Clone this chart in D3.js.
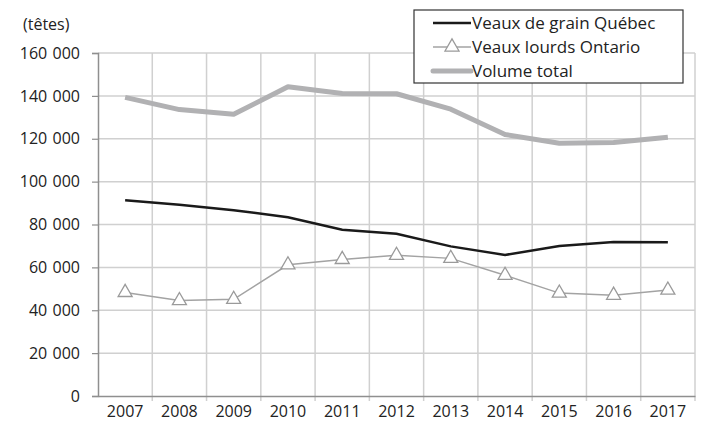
<!DOCTYPE html>
<html>
<head>
<meta charset="utf-8">
<script src="https://cdn.jsdelivr.net/npm/d3@7"></script>
<style>
  body { margin: 0; background: #fff; }
  text { font-family: "Open Sans", sans-serif; fill: #222; }
</style>
</head>
<body>
<div id="wrapper"></div>
<script>
const years = ["2007", "2008", "2009", "2010", "2011", "2012", "2013", "2014", "2015", "2016", "2017"];
const quebec = [91300, 89200, 86700, 83400, 77600, 75700, 69800, 65800, 70000, 71800, 71700];
const ontario = [48300, 44500, 45100, 61200, 63700, 65600, 64200, 56300, 48000, 47000, 49400];
const total = [139300, 133600, 131400, 144300, 141100, 141000, 133800, 122000, 117900, 118300, 120700];
const yTicks = [0, 20000, 40000, 60000, 80000, 100000, 120000, 140000, 160000];
const seriesNames = ["Veaux de grain Québec", "Veaux lourds Ontario", "Volume total"];

const dimensions = {
  width: 701,
  height: 423,
  margin: { top: 53, right: 6, bottom: 27, left: 98 }
};
dimensions.boundedWidth = dimensions.width - dimensions.margin.left - dimensions.margin.right;
dimensions.boundedHeight = dimensions.height - dimensions.margin.top - dimensions.margin.bottom;

const svg = d3.select("#wrapper")
  .append("svg")
  .attr("width", dimensions.width)
  .attr("height", dimensions.height);

const bounds = svg.append("g")
  .attr("transform", `translate(${dimensions.margin.left},${dimensions.margin.top})`);

const xScale = d3.scaleBand()
  .domain(years)
  .range([0, dimensions.boundedWidth]);

const yScale = d3.scaleLinear()
  .domain([0, 160000])
  .range([dimensions.boundedHeight, 0]);

const fmt = d => d3.format(",")(d).replace(/,/g, "\u2009\u2009");

// grid
bounds.append("g")
  .selectAll("line")
  .data(yTicks.slice(1))
  .join("line")
  .attr("x1", 0)
  .attr("x2", dimensions.boundedWidth)
  .attr("y1", d => yScale(d))
  .attr("y2", d => yScale(d))
  .attr("stroke", "#d0d0d0")
  .attr("stroke-width", 1.5);

bounds.append("g")
  .selectAll("line")
  .data(years)
  .join("line")
  .attr("x1", (d, i) => xScale.step() * (i + 1))
  .attr("x2", (d, i) => xScale.step() * (i + 1))
  .attr("y1", 0)
  .attr("y2", dimensions.boundedHeight + 5)
  .attr("stroke", "#d0d0d0")
  .attr("stroke-width", 1.5);

// y axis
const yAxis = bounds.append("g")
  .call(d3.axisLeft(yScale).tickValues(yTicks).tickFormat(fmt).tickSize(6).tickPadding(12));
yAxis.select(".domain").attr("stroke", "#8f8f8f").attr("stroke-width", 1.5);
yAxis.selectAll(".tick line").attr("stroke", "#8f8f8f").attr("stroke-width", 1.2);
yAxis.selectAll(".tick text")
  .style("font-size", "16px")
  .style("font-family", "'Open Sans', sans-serif")
  .attr("fill", "#222");

// x axis
const xAxis = bounds.append("g")
  .attr("transform", `translate(0,${dimensions.boundedHeight})`)
  .call(d3.axisBottom(xScale).tickSize(0).tickPadding(10));
xAxis.select(".domain").attr("stroke", "#8f8f8f").attr("stroke-width", 1.5);
xAxis.selectAll(".tick text")
  .style("font-size", "16px")
  .style("font-family", "'Open Sans', sans-serif")
  .attr("fill", "#222");

svg.append("text")
  .attr("x", 23)
  .attr("y", 30)
  .style("font-size", "16px")
  .text("(têtes)");

const cx = d => xScale(d) + xScale.bandwidth() / 2;
const lineGen = vals => d3.line()
  .x((d, i) => cx(years[i]))
  .y(d => yScale(d))(vals);

bounds.append("path")
  .attr("d", lineGen(total))
  .attr("fill", "none")
  .attr("stroke", "#b1b1b3")
  .attr("stroke-width", 5)
  .attr("stroke-linejoin", "round");

bounds.append("path")
  .attr("d", lineGen(quebec))
  .attr("fill", "none")
  .attr("stroke", "#1a1a1a")
  .attr("stroke-width", 2.5);

bounds.append("path")
  .attr("d", lineGen(ontario))
  .attr("fill", "none")
  .attr("stroke", "#a3a3a3")
  .attr("stroke-width", 1.5);

const tri = d3.symbol().type(d3.symbolTriangle).size(85);
bounds.append("g")
  .selectAll("path")
  .data(ontario)
  .join("path")
  .attr("d", tri)
  .attr("transform", (d, i) => `translate(${cx(years[i])},${yScale(d)})`)
  .attr("fill", "#fff")
  .attr("stroke", "#9a9a9a")
  .attr("stroke-width", 1.3);

// legend
const legend = svg.append("g").attr("transform", "translate(414,10)");
legend.append("rect")
  .attr("width", 269)
  .attr("height", 73)
  .attr("fill", "#fff")
  .attr("stroke", "#333")
  .attr("stroke-width", 1.2);

const legendStyles = [
  { stroke: "#1a1a1a", width: 2.5, marker: false },
  { stroke: "#a3a3a3", width: 1.5, marker: true },
  { stroke: "#b1b1b3", width: 5, marker: false }
];
const rows = legend.selectAll("g")
  .data(seriesNames)
  .join("g")
  .attr("transform", (d, i) => `translate(0,${13 + i * 24})`);
rows.append("line")
  .attr("x1", 19)
  .attr("x2", 57)
  .attr("stroke", (d, i) => legendStyles[i].stroke)
  .attr("stroke-width", (d, i) => legendStyles[i].width)
  .attr("stroke-linecap", (d, i) => i === 2 ? "round" : "butt");
rows.filter((d, i) => legendStyles[i].marker)
  .append("path")
  .attr("d", tri)
  .attr("transform", "translate(38,0)")
  .attr("fill", "#fff")
  .attr("stroke", "#9a9a9a")
  .attr("stroke-width", 1.3);
rows.append("text")
  .attr("x", 58)
  .attr("dy", "0.35em")
  .style("font-size", "17px")
  .text(d => d);
</script>
</body>
</html>
